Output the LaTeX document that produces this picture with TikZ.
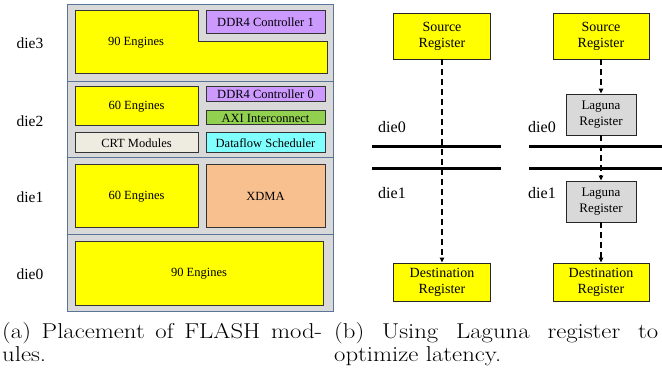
\documentclass[tikz,border=0pt]{standalone}
\usepackage{fontspec}
\newfontfamily\tms{Liberation Serif}
\newfontfamily\capfont[FakeStretch=1.15]{Latin Modern Roman}
\usetikzlibrary{arrows.meta}
\definecolor{dieframe}{HTML}{5A7599}
\definecolor{diefill}{HTML}{D9D9D9}
\definecolor{engy}{HTML}{FFFF00}
\definecolor{ddrpurple}{HTML}{CC99FF}
\definecolor{axigreen}{HTML}{92D050}
\definecolor{crtbeige}{HTML}{EEECE1}
\definecolor{dfcyan}{HTML}{80FFFF}
\definecolor{xdmapeach}{HTML}{F8BF8F}
\definecolor{lagunagray}{HTML}{D9D9D9}
\tikzset{
  diepanel/.style={draw=dieframe, fill=diefill, line width=1pt},
  block/.style={draw=black!80, line width=1pt},
  blocktext/.style={font=\tms\fontsize{12.5}{14}\selectfont, inner sep=0pt},
  dielabel/.style={font=\tms\fontsize{15.5}{17}\selectfont, inner sep=0pt},
  regbox/.style={draw=black!85, line width=0.9pt, align=center, inner sep=0pt,
    font=\tms\fontsize{14}{16}\selectfont},
  laguna/.style={regbox, fill=lagunagray, minimum width=70pt, minimum height=41pt,
    font=\tms\fontsize{13}{16}\selectfont},
  wire/.style={dashed, dash pattern=on 6pt off 4pt, line width=1.5pt,
    -{Triangle[length=5pt,width=4.5pt]}},
  dieline/.style={line width=3pt},
  captext/.style={font=\capfont\fontsize{21.5}{24}\selectfont, inner sep=0pt, anchor=base west}
}
\begin{document}
\begin{tikzpicture}[x=1pt,y=-1pt]
\useasboundingbox (0,0) rectangle (662,371);

% ---------- stacked dies ----------
\path[diepanel] (67,5) rectangle (333,82);
\path[diepanel] (67,82) rectangle (333,158);
\path[diepanel] (67,158) rectangle (333,235);
\path[diepanel] (67,235) rectangle (333,312);

% die3
\path[block, fill=engy] (75,11) -- (198,11) -- (198,42) -- (327,42) -- (327,74) -- (75,74) -- cycle;
\node[blocktext] (e90top) at (136,43) {90 Engines};
\node[block, fill=ddrpurple, blocktext, minimum width=119pt, minimum height=23pt] (ddr1) at (265.5,22.5) {DDR4 Controller 1};

% die2
\node[block, fill=engy, blocktext, minimum width=123pt, minimum height=39pt] (e60a) at (136.5,106.5) {60 Engines};
\node[block, fill=ddrpurple, blocktext, minimum width=119pt, minimum height=15pt] (ddr0) at (265.5,94.5) {DDR4 Controller 0};
\node[block, fill=axigreen, blocktext, minimum width=119pt, minimum height=14pt] (axi) at (265.5,118) {AXI Interconnect};
\node[block, fill=crtbeige, blocktext, minimum width=123pt, minimum height=20pt] (crt) at (136.5,143) {CRT Modules};
\node[block, fill=dfcyan, blocktext, minimum width=119pt, minimum height=20pt] (dfs) at (265.5,143) {Dataflow Scheduler};

% die1
\node[block, fill=engy, blocktext, minimum width=123pt, minimum height=63pt] (e60b) at (136.5,196.5) {60 Engines};
\node[block, fill=xdmapeach, blocktext, minimum width=119pt, minimum height=63pt] (xdma) at (265.5,196.5) {XDMA};

% die0
\node[block, fill=engy, blocktext, minimum width=248pt, minimum height=64pt] (e90bot) at (199,274) {90 Engines};

% die names
\node[dielabel] (d3) at (30,43) {die3};
\node[dielabel] (d2) at (30,121) {die2};
\node[dielabel] (d1) at (30,197) {die1};
\node[dielabel] (d0) at (30,274) {die0};

% ---------- crossing without Laguna ----------
\node[regbox, fill=engy, minimum width=97pt, minimum height=46pt] (srcA) at (442,36) {Source\\Register};
\node[regbox, fill=engy, minimum width=97pt, minimum height=38pt] (dstA) at (442,282) {Destination\\Register};
\coordinate (a0l) at (372,147); \coordinate (a0r) at (501,147);
\coordinate (a1l) at (372,169); \coordinate (a1r) at (501,169);
\draw[dieline] (a0l) -- (a0r);
\draw[dieline] (a1l) -- (a1r);
\node[dielabel, font=\tms\fontsize{16}{18}\selectfont] (lA0) at (392,127) {die0};
\node[dielabel, font=\tms\fontsize{16}{18}\selectfont] (lA1) at (392,193) {die1};
\draw[wire] (srcA.south) -- (dstA.north);

% ---------- crossing with Laguna registers ----------
\node[regbox, fill=engy, minimum width=96pt, minimum height=46pt] (srcB) at (601,36) {Source\\Register};
\node[laguna] (lagA) at (601,114.5) {Laguna\\Register};
\node[laguna] (lagB) at (601,201.5) {Laguna\\Register};
\node[regbox, fill=engy, minimum width=96pt, minimum height=38pt] (dstB) at (601,282) {Destination\\Register};
\coordinate (b0l) at (529,147); \coordinate (b0r) at (662,147);
\coordinate (b1l) at (529,169); \coordinate (b1r) at (662,169);
\draw[dieline] (b0l) -- (b0r);
\draw[dieline] (b1l) -- (b1r);
\node[dielabel, font=\tms\fontsize{16}{18}\selectfont] (lB0) at (542,127) {die0};
\node[dielabel, font=\tms\fontsize{16}{18}\selectfont] (lB1) at (542,193) {die1};
\draw[wire] (srcB.south) -- (lagA.north);
\draw[wire] (lagA.south) -- (lagB.north);
\draw[wire] (lagB.south) -- (dstB.north);

% ---------- captions ----------
\node[captext] (capa1) at (2,339) {\makebox[320pt][s]{(a) Placement of FLASH mod-}};
\node[captext] (capa2) at (2,362) {ules.};
\node[captext] (capb1) at (334,339) {\makebox[324pt][s]{(b) Using Laguna register to}};
\node[captext] (capb2) at (334,362) {optimize latency.};
\end{tikzpicture}
\end{document}
